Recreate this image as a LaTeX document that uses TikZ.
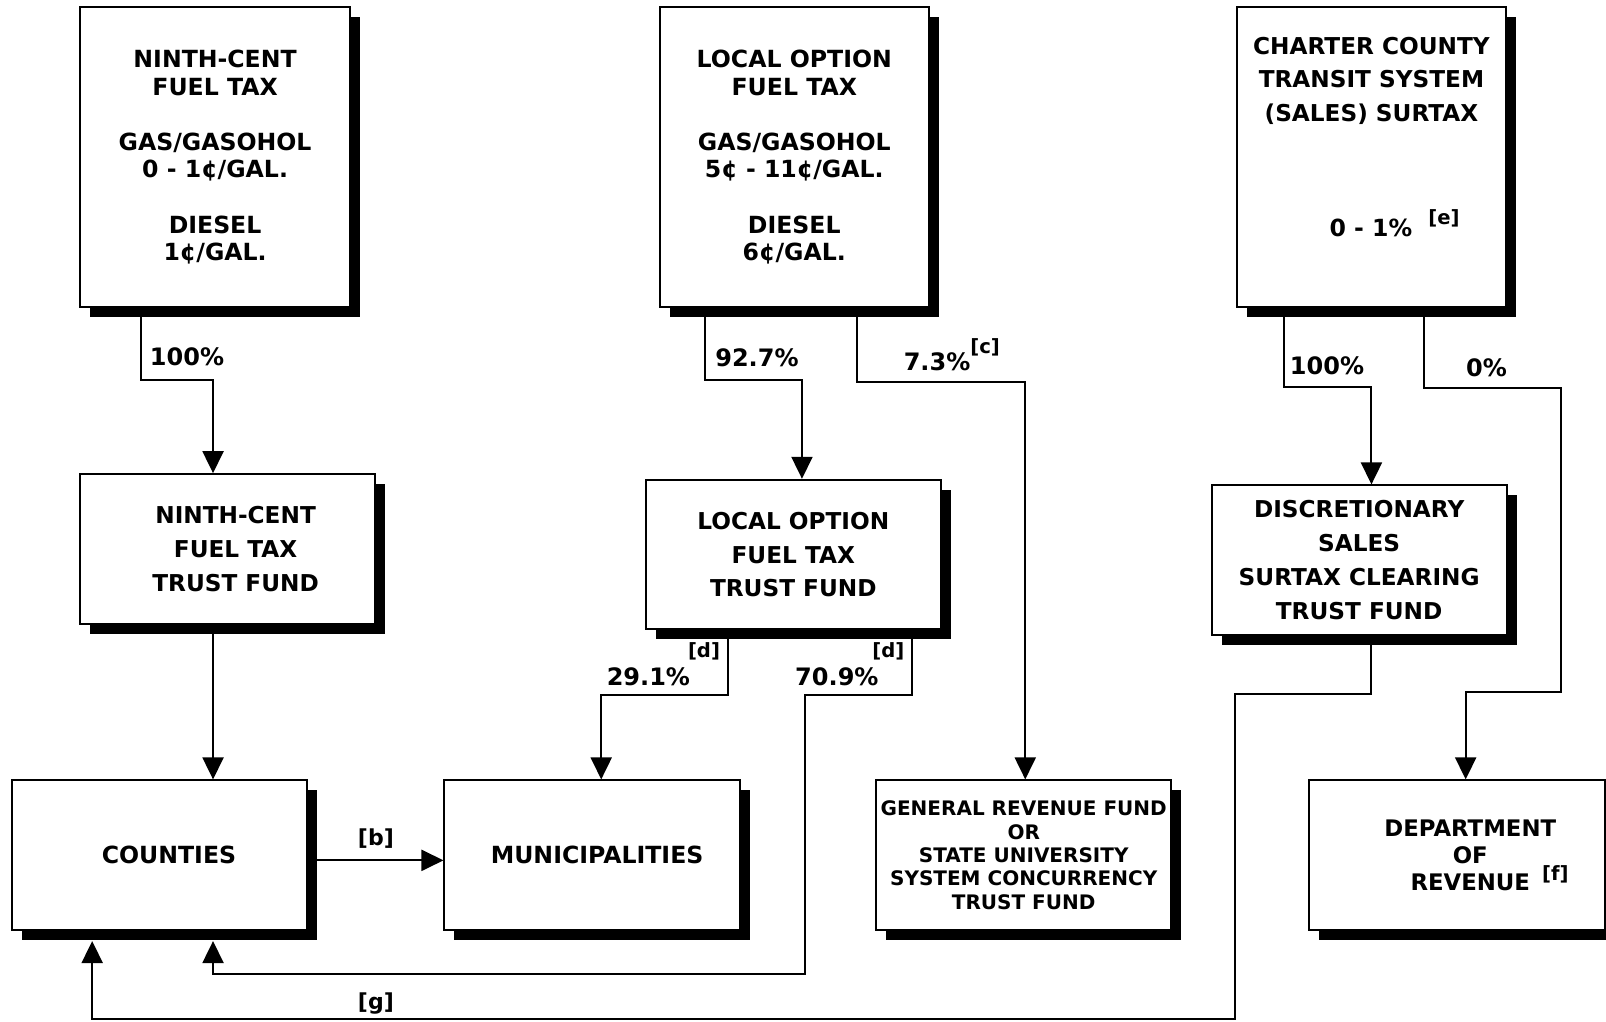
\documentclass[tikz,border=0pt]{standalone}
\usepackage{fontspec}
\setmainfont{DejaVu Sans}
\usetikzlibrary{arrows.meta,shadows}

% raised footnote mark
\newcommand{\fnote}[2][6pt]{\raisebox{#1}{\fontsize{9.8}{10}\selectfont[#2]}}

\begin{document}
\begin{tikzpicture}[x=0.512pt,y=-0.512pt,
taxbox/.style={draw,fill=white,line width=1pt,rectangle,inner sep=0pt,align=center,
  drop shadow={shadow xshift=5pt,shadow yshift=-5pt,fill=black,opacity=1},
  font=\bfseries\fontsize{11.8}{13.8}\selectfont},
fundbox/.style={taxbox,minimum width=147.5pt,minimum height=74.8pt,
  font=\bfseries\fontsize{11.6}{16.9}\selectfont},
flow/.style={line width=1pt,-{Triangle[length=11pt,width=10.5pt]}},
pct/.style={inner sep=0pt,font=\bfseries\fontsize{12}{14}\selectfont}]
\useasboundingbox (0,0) rectangle (1568,997);

% taxes
\node[taxbox,minimum width=135.2pt,minimum height=150pt] (ninthtax) at (210,153.5)
  {NINTH-CENT\\FUEL TAX\\[13.8pt]GAS/GASOHOL\\0 - 1¢/GAL.\\[13.8pt]DIESEL\\1¢/GAL.};
\node[taxbox,minimum width=134.7pt,minimum height=150pt] (localtax) at (775.5,153.5)
  {LOCAL OPTION\\FUEL TAX\\[13.8pt]GAS/GASOHOL\\5¢ - 11¢/GAL.\\[13.8pt]DIESEL\\6¢/GAL.};
\node[taxbox,minimum width=134.1pt,minimum height=150pt] (cctax) at (1339,153.5) {};
\node[inner sep=0pt,align=center,font=\bfseries\fontsize{11.6}{16.9}\selectfont] (cctitle) at (1339,79)
  {CHARTER COUNTY\\TRANSIT SYSTEM\\(SALES) SURTAX};
\node[inner sep=0pt,font=\bfseries\fontsize{11.8}{13.8}\selectfont] (ccrate) at (1338.5,218)
  {0 - 1\%\rlap{\hspace{8pt}\fnote[6.4pt]{e}}};

% trust funds
\node[fundbox] (ninthtf) at (222,536)
  {\hspace*{8.2pt}NINTH-CENT\\\hspace*{8.2pt}FUEL TAX\\\hspace*{8.2pt}TRUST FUND};
\node[fundbox] (localtf) at (774.5,541.5) {LOCAL OPTION\\FUEL TAX\\TRUST FUND};
\node[fundbox] (dstf) at (1327,547) {DISCRETIONARY\\SALES\\SURTAX CLEARING\\TRUST FUND};

% recipients
\node[fundbox,font=\bfseries\fontsize{11.8}{13.8}\selectfont] (counties) at (156,835) {\hspace*{9.2pt}COUNTIES};
\node[fundbox,font=\bfseries\fontsize{11.8}{13.8}\selectfont] (munis) at (578,835) {\hspace*{5.1pt}MUNICIPALITIES};
\node[fundbox,font=\bfseries\fontsize{10}{11.65}\selectfont] (genrev) at (999.5,835)
  {GENERAL REVENUE FUND\\OR\\STATE UNIVERSITY\\SYSTEM CONCURRENCY\\TRUST FUND};
\node[fundbox,font=\bfseries\fontsize{11.4}{13.6}\selectfont] (dor) at (1422.5,835)
  {\hspace*{13.3pt}DEPARTMENT\\\hspace*{13.3pt}OF\\\hspace*{13.3pt}REVENUE\rlap{\hspace{6pt}\fnote[4.9pt]{f}}};

% bends
\coordinate (a1) at (138,371);
\coordinate (a2) at (208,371);
\coordinate (b1) at (688,371);
\coordinate (b2) at (783,371);
\coordinate (b3) at (837,373);
\coordinate (b4) at (1001,373);
\coordinate (e1) at (711,679);
\coordinate (e2) at (587,679);
\coordinate (e3) at (890,679);
\coordinate (e4) at (786,679);
\coordinate (e5) at (786,951);
\coordinate (e6) at (208,951);
\coordinate (g0) at (310,840);
\coordinate (c1) at (1254,378);
\coordinate (c2) at (1339,378);
\coordinate (c3) at (1390,379);
\coordinate (c4) at (1524,379);
\coordinate (c5) at (1524,676);
\coordinate (c6) at (1431,676);
\coordinate (f1) at (1339,678);
\coordinate (f2) at (1206,678);
\coordinate (f3) at (1206,995);
\coordinate (f4) at (90,995);

% flows
\draw[flow] (ninthtax.south -| a1) |- (a2) -- (ninthtf.north -| a2);
\draw[flow] (ninthtf.south -| a2) -- (counties.north -| a2);
\draw[flow] (localtax.south -| b1) |- (b2) -- (localtf.north -| b2);
\draw[flow] (localtax.south -| b3) |- (b4) -- (genrev.north -| b4);
\draw[flow] (localtf.south -| e1) |- (e2) -- (munis.north -| e2);
\draw[flow,shorten >=5pt] (localtf.south -| e3) |- (e4) -- (e5) -- (e6) -- (counties.south -| e6);
\draw[flow] (counties.east |- g0) -- (munis.west |- g0);
\draw[flow] (cctax.south -| c1) |- (c2) -- (dstf.north -| c2);
\draw[flow] (cctax.south -| c3) |- (c4) -- (c5) -- (c6) -- (dor.north -| c6);
\draw[flow,shorten >=5pt] (dstf.south -| f1) |- (f2) -- (f3) -- (f4) -- (counties.south -| f4);

% shares
\node[pct,anchor=west] (pa) at (146,348) {100\%};
\node[pct,anchor=west] (pb1) at (698,349) {92.7\%};
\node[pct,anchor=base west] (pb2) at (882,361.5) {7.3\%\fnote[8.5pt]{c}};
\node[pct,anchor=base west] (pe1) at (592,669.5) {29.1\%\kern-1pt\fnote[14pt]{d}};
\node[pct,anchor=base west] (pe2) at (776,669.5) {70.9\%\kern-3pt\fnote[14pt]{d}};
\node[pct,anchor=west] (pc1) at (1259,357) {100\%};
\node[pct,anchor=west] (pc2) at (1431,359) {0\%};
\node[pct,font=\bfseries\fontsize{11}{13}\selectfont] (nb) at (367,819) {[b]};
\node[pct,font=\bfseries\fontsize{11}{13}\selectfont] (ng) at (367,980) {[g]};
\end{tikzpicture}
\end{document}
